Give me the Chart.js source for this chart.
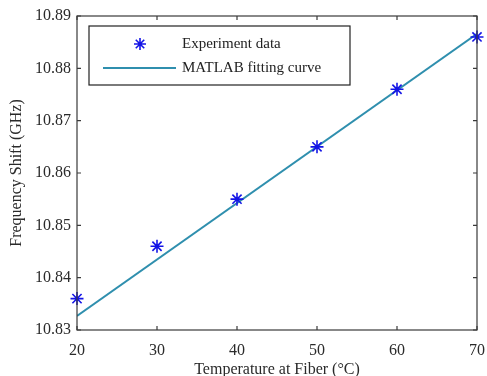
<!DOCTYPE html>
<html>
<head>
<meta charset="utf-8">
<script src="https://cdn.jsdelivr.net/npm/chart.js@4.4.0/dist/chart.umd.min.js"></script>
<style>
  body { margin: 0; background: #fff; }
  canvas { display: block; }
</style>
</head>
<body>
<canvas id="c" width="487" height="376"></canvas>
<script>
  // measured points
  var tempC = [20, 30, 40, 50, 60, 70];
  var shiftGHz = [10.836, 10.846, 10.855, 10.865, 10.876, 10.886];
  // fitted line, read at its two ends
  var fitX = [20, 70];
  var fitY = [10.8327, 10.8866];
  var xTicks = [20, 30, 40, 50, 60, 70];
  var yTicks = [10.83, 10.84, 10.85, 10.86, 10.87, 10.88, 10.89];

  var serif = "'Liberation Serif', 'Times New Roman', serif";
  var axisColor = '#3a3a3a';
  var markColor = '#1414e6';
  var fitColor = '#2f8fae';

  var toPoints = function(xs, ys) {
    var out = [];
    for (var i = 0; i < xs.length; i++) out.push({ x: xs[i], y: ys[i] });
    return out;
  };

  // box round the plot and MATLAB style inward ticks on all four sides
  var boxPlugin = {
    id: 'box',
    afterDraw: function(chart) {
      var ctx = chart.ctx, a = chart.chartArea;
      var xs = chart.scales.x, ys = chart.scales.y;
      ctx.save();
      ctx.strokeStyle = axisColor;
      ctx.lineWidth = 1.2;
      ctx.strokeRect(a.left, a.top, a.right - a.left, a.bottom - a.top);
      ctx.beginPath();
      xTicks.forEach(function(v) {
        var px = xs.getPixelForValue(v);
        ctx.moveTo(px, a.bottom); ctx.lineTo(px, a.bottom - 4);
        ctx.moveTo(px, a.top); ctx.lineTo(px, a.top + 4);
      });
      yTicks.forEach(function(v) {
        var py = ys.getPixelForValue(v);
        ctx.moveTo(a.left, py); ctx.lineTo(a.left + 4, py);
        ctx.moveTo(a.right, py); ctx.lineTo(a.right - 4, py);
      });
      ctx.stroke();

      // legend
      var lx = a.left + 12, ly = a.top + 10, lw = 261, lh = 59;
      ctx.fillStyle = '#fff';
      ctx.fillRect(lx, ly, lw, lh);
      ctx.lineWidth = 1.2;
      ctx.strokeStyle = '#222';
      ctx.strokeRect(lx, ly, lw, lh);

      var r = 6, cx = lx + 51, cy = ly + 18;
      ctx.strokeStyle = markColor;
      ctx.lineWidth = 1.6;
      ctx.beginPath();
      ctx.moveTo(cx - r, cy); ctx.lineTo(cx + r, cy);
      ctx.moveTo(cx, cy - r); ctx.lineTo(cx, cy + r);
      var d = r * 0.7071;
      ctx.moveTo(cx - d, cy - d); ctx.lineTo(cx + d, cy + d);
      ctx.moveTo(cx - d, cy + d); ctx.lineTo(cx + d, cy - d);
      ctx.stroke();

      ctx.strokeStyle = fitColor;
      ctx.lineWidth = 2;
      ctx.beginPath();
      ctx.moveTo(lx + 14, ly + 42); ctx.lineTo(lx + 87, ly + 42);
      ctx.stroke();

      ctx.fillStyle = '#222';
      ctx.font = '15px ' + serif;
      ctx.textBaseline = 'middle';
      ctx.textAlign = 'left';
      ctx.fillText('Experiment data', lx + 93, cy);
      ctx.fillText('MATLAB fitting curve', lx + 93, ly + 42);
      ctx.restore();
    }
  };

  new Chart(document.getElementById('c').getContext('2d'), {
    type: 'scatter',
    data: {
      datasets: [
        {
          label: 'MATLAB fitting curve',
          data: toPoints(fitX, fitY),
          showLine: true,
          borderColor: fitColor,
          borderWidth: 2,
          pointRadius: 0,
          order: 2
        },
        {
          label: 'Experiment data',
          data: toPoints(tempC, shiftGHz),
          pointStyle: 'star',
          pointRadius: 6.5,
          borderColor: markColor,
          backgroundColor: markColor,
          pointBorderWidth: 1.6,
          clip: false,
          order: 1
        }
      ]
    },
    options: {
      responsive: false,
      animation: false,
      layout: { padding: { left: 0, right: 10, top: 16, bottom: 0 } },
      plugins: { legend: { display: false }, tooltip: { enabled: false } },
      scales: {
        x: {
          type: 'linear',
          min: 20,
          max: 70,
          afterBuildTicks: function(scale) {
            scale.ticks = xTicks.map(function(v) { return { value: v }; });
          },
          afterFit: function(scale) {
            scale.height = 46;
            scale.paddingLeft = 0;
            scale.paddingRight = 0;
          },
          grid: { display: false, drawTicks: false },
          border: { display: false },
          ticks: {
            padding: 11,
            color: '#2a2a2a',
            font: { family: serif, size: 16 },
            callback: function(v) { return v; }
          },
          title: {
            display: true,
            text: 'Temperature at Fiber (°C)',
            color: '#2a2a2a',
            font: { family: serif, size: 16, lineHeight: 0.8 },
            padding: { top: 0, bottom: 0 }
          }
        },
        y: {
          type: 'linear',
          min: 10.83,
          max: 10.89,
          afterBuildTicks: function(scale) {
            scale.ticks = yTicks.map(function(v) { return { value: v }; });
          },
          afterFit: function(scale) {
            scale.width = 77;
            scale.paddingTop = 0;
            scale.paddingBottom = 0;
          },
          grid: { display: false, drawTicks: false },
          border: { display: false },
          ticks: {
            padding: 6,
            color: '#2a2a2a',
            font: { family: serif, size: 16 },
            callback: function(v) { return Number(v).toFixed(2); }
          },
          title: {
            display: true,
            text: 'Frequency Shift (GHz)',
            color: '#2a2a2a',
            font: { family: serif, size: 16, lineHeight: 1.2 },
            padding: { top: 7, bottom: 0 }
          }
        }
      }
    },
    plugins: [boxPlugin]
  });
</script>
</body>
</html>
